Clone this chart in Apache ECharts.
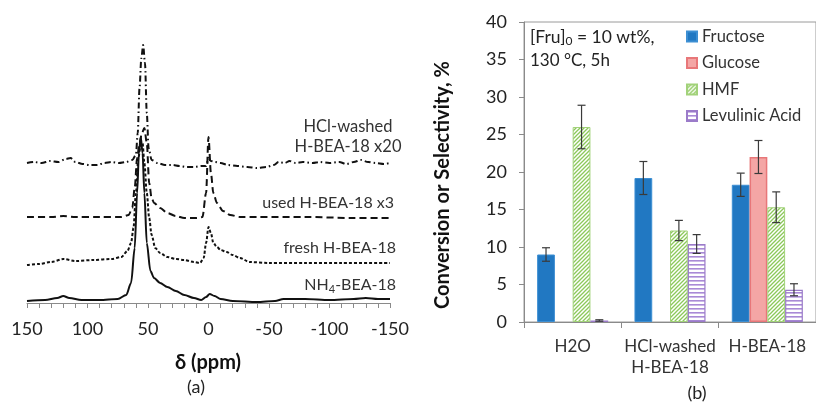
<!DOCTYPE html>
<html>
<head>
<meta charset="utf-8">
<script src="https://cdn.jsdelivr.net/npm/echarts@6/dist/echarts.min.js"></script>
<style>
  html, body { margin: 0; padding: 0; background: #fff; }
  #main { width: 816px; height: 403px; }
</style>
</head>
<body>
<div id="main"></div>
<script>
"use strict";

// (a) spectra: ppm positions and intensity (arbitrary units)
let nhPpm = [150,135,125,120,115,105,90,75,68,64,61,59,57.5,56,54.5,53,51,48,45,40,34,27,20,12,6,2,-1,-5,-10,-20,-40,-55,-62,-80,-100,-120,-130,-140,-150];
let nhInt = [2,3,5,7,5,3,3,4,8,20,55,110,150,166,150,110,60,32,25,20,16,12,8,5,3,6,9,7,4,2,1,2,4,4,3,4,5,4,4];

let freshPpm = [150,140,130,120,110,95,80,72,67,64,62,60,58,56,54.5,53,51,49,47,44,40,34,27,20,12,7,4,2,0,-2,-4,-7,-10,-15,-20,-26,-34,-50,-80,-110,-150];
let freshInt = [38,39,41,44,42,43,44,46,52,60,75,110,145,158,160,140,110,85,68,55,50,46,44,43,41,40,45,60,76,70,60,56,53,51,48,45,41,40,40,40,40];

let usedPpm = [150,130,120,110,90,72,66,63,61,59,57,55,53,51,49,47,45,40,34,27,20,10,5,2,0,-2,-4,-7,-12,-18,-26,-40,-80,-120,-150];
let usedInt = [86,86,87,86,86,86,88,95,115,145,160,170,175,160,120,105,100,95,90,87,85,85,86,110,166,130,110,100,92,88,86,86,86,85,85];

let hclPpm = [150,144,138,131,124,118,114,110,104,98,92,86,80,74,68,63,60,58.5,57,55.5,54,52.5,51,49.5,47,42,36,30,24,18,12,6,2,0,-2,-5,-10,-16,-24,-32,-40,-48,-54,-58,-63,-67,-72,-78,-86,-92,-100,-108,-114,-120,-126,-132,-138,-145,-150];
let hclInt = [140,141,140,142,141,144,145,141,139,138,138,140,141,140,141,143,148,170,215,245,258,240,190,155,143,140,138,138,137,136,136,137,137,145,142,141,140,138,137,136,135,136,138,141,140,142,140,141,140,141,140,141,139,141,143,141,140,139,140];

// (b) bars
let categories = ['H2O', 'HCl-washed\nH-BEA-18', 'H-BEA-18'];
let fructose = [9.0, 19.2, 18.3];
let fructoseErr = [0.9, 2.2, 1.55];
let glucose = ['-', '-', 22.0];
let glucoseErr = [null, null, 2.2];
let hmf = [26.0, 12.2, 15.3];
let hmfErr = [2.9, 1.35, 2.05];
let levulinic = [0.2, 10.4, 4.3];
let levulinicErr = [0.1, 1.25, 0.8];

let FONT = 'Lato, "Noto Sans", sans-serif';

function pairs(xs, ys) {
  return xs.map((x, i) => [x, ys[i]]);
}

// small repeating tiles for the hatched bars
function hatch(kind, color) {
  let c = document.createElement('canvas');
  c.width = 4; c.height = 4;
  let g = c.getContext('2d');
  g.fillStyle = '#ffffff';
  g.fillRect(0, 0, 4, 4);
  if (kind === 'diag') {
    g.strokeStyle = color;
    g.lineWidth = 1.3;
    g.beginPath();
    g.moveTo(-1, 5); g.lineTo(5, -1);
    g.moveTo(-1, 1); g.lineTo(1, -1);
    g.moveTo(3, 5); g.lineTo(5, 3);
    g.stroke();
  } else {
    g.fillStyle = color;
    g.fillRect(0, 0, 4, 1.6);
  }
  return { image: c, repeat: 'repeat' };
}

function spectrum(name, ppm, vals, dash) {
  return {
    type: 'line', name: name, xAxisIndex: 0, yAxisIndex: 0,
    data: pairs(ppm, vals), symbol: 'none', smooth: 0.3, smoothMonotone: 'x',
    lineStyle: { color: '#111', width: 2, type: dash },
    silent: true, animation: false
  };
}

// error bars drawn through the bar axis scales
function errSeries(slot, vals, errs) {
  let data = [];
  vals.forEach((v, i) => {
    if (errs[i] != null) data.push([i, v, errs[i]]);
  });
  return {
    type: 'custom', xAxisIndex: 1, yAxisIndex: 1, z: 5, animation: false, silent: true,
    data: data,
    renderItem: function (params, api) {
      let cat = api.value(0), v = api.value(1), e = api.value(2);
      let band = api.size([1, 0])[0];
      let bw = band * 0.73 / 4;
      let x = api.coord([cat, v])[0] + (slot - 1.5) * bw;
      let top = api.coord([cat, v + e])[1];
      let bot = api.coord([cat, v - e])[1];
      let st = { stroke: '#3a3a3a', lineWidth: 1.2 };
      return {
        type: 'group',
        children: [
          { type: 'line', shape: { x1: x, y1: top, x2: x, y2: bot }, style: st },
          { type: 'line', shape: { x1: x - 4, y1: top, x2: x + 4, y2: top }, style: st },
          { type: 'line', shape: { x1: x - 4, y1: bot, x2: x + 4, y2: bot }, style: st }
        ]
      };
    }
  };
}

let chart = echarts.init(document.getElementById('main'), null, { renderer: 'canvas' });

let labelStyle = { fill: '#333', font: '16px ' + FONT, align: 'right', verticalAlign: 'middle' };

let option = {
  backgroundColor: '#fff',
  animation: false,
  textStyle: { fontFamily: FONT },
  grid: [
    { left: 27, top: 30, width: 363, height: 273 },
    { left: 524, top: 22, width: 303, height: 300, show: true, borderColor: '#9a9a9a', borderWidth: 1 }
  ],
  xAxis: [
    {
      gridIndex: 0, type: 'value', inverse: true, min: -150, max: 150, interval: 50,
      axisLine: { show: true, lineStyle: { color: '#8a8a8a', width: 1 } },
      axisTick: { show: true, length: 5, lineStyle: { color: '#8a8a8a' } },
      minorTick: { show: true, splitNumber: 5, length: 5, lineStyle: { color: '#8a8a8a' } },
      splitLine: { show: false },
      axisLabel: { fontSize: 18, color: '#222', margin: 17, fontFamily: FONT }
    },
    {
      gridIndex: 1, type: 'category', data: categories,
      axisLine: { show: true, lineStyle: { color: '#8a8a8a' } },
      axisTick: { show: true, length: 6, lineStyle: { color: '#8a8a8a' } },
      axisLabel: { fontSize: 17, color: '#333', margin: 14, lineHeight: 21, interval: 0, fontFamily: FONT }
    }
  ],
  yAxis: [
    { gridIndex: 0, type: 'value', min: 0, max: 273, show: false },
    {
      gridIndex: 1, type: 'value', min: 0, max: 40, interval: 5,
      axisLine: { show: true, lineStyle: { color: '#8a8a8a' } },
      axisTick: { show: true, length: 5, lineStyle: { color: '#8a8a8a' } },
      splitLine: { show: false },
      axisLabel: { fontSize: 18, color: '#222', margin: 17, fontFamily: FONT }
    }
  ],
  legend: {
    orient: 'vertical', left: 686, top: 28, padding: 0, itemWidth: 10, itemHeight: 10, itemGap: 9.5,
    icon: 'rect', data: ['Fructose', 'Glucose', 'HMF', 'Levulinic Acid'],
    textStyle: { fontSize: 16.5, color: '#333', fontFamily: FONT }
  },
  series: [
    spectrum('NH4-BEA-18', nhPpm, nhInt, 'solid'),
    spectrum('fresh H-BEA-18', freshPpm, freshInt, [3, 2]),
    spectrum('used H-BEA-18 x3', usedPpm, usedInt, [7, 4]),
    spectrum('HCl-washed H-BEA-18 x20', hclPpm, hclInt, [6, 3, 1.5, 3]),
    {
      type: 'bar', name: 'Fructose', xAxisIndex: 1, yAxisIndex: 1, data: fructose,
      barGap: '0%', barCategoryGap: '27%',
      itemStyle: { color: '#2178C2', borderColor: '#3d8fd3', borderWidth: 1 }
    },
    {
      type: 'bar', name: 'Glucose', xAxisIndex: 1, yAxisIndex: 1, data: glucose,
      itemStyle: { color: '#F4A6A5', borderColor: '#E87779', borderWidth: 1.5 }
    },
    {
      type: 'bar', name: 'HMF', xAxisIndex: 1, yAxisIndex: 1, data: hmf,
      itemStyle: { color: hatch('diag', '#8CC85A'), borderColor: '#A2D27A', borderWidth: 1 }
    },
    {
      type: 'bar', name: 'Levulinic Acid', xAxisIndex: 1, yAxisIndex: 1, data: levulinic,
      itemStyle: { color: hatch('horiz', '#A98AD6'), borderColor: '#9B7BC9', borderWidth: 1.2 }
    },
    errSeries(0, fructose, fructoseErr),
    errSeries(1, glucose, glucoseErr),
    errSeries(2, hmf, hmfErr),
    errSeries(3, levulinic, levulinicErr)
  ],
  graphic: [
    // spectrum labels
    {
      type: 'text', x: 348, y: 137,
      style: { text: 'HCl-washed\nH-BEA-18 x20', fill: '#333', font: '16.5px ' + FONT, align: 'center', verticalAlign: 'middle', lineHeight: 20 }
    },
    { type: 'text', x: 394, y: 203, style: Object.assign({ text: 'used H-BEA-18 x3' }, labelStyle) },
    { type: 'text', x: 396, y: 248, style: Object.assign({ text: 'fresh H-BEA-18' }, labelStyle) },
    {
      type: 'text', x: 396, y: 285,
      style: {
        text: '{n|NH}{s|4}{n|-BEA-18}', align: 'right', verticalAlign: 'middle',
        rich: {
          n: { fontSize: 16, fontFamily: FONT, fill: '#333', lineHeight: 20 },
          s: { fontSize: 11, fontFamily: FONT, fill: '#333', lineHeight: 13, verticalAlign: 'bottom' }
        }
      }
    },
    { type: 'text', x: 208, y: 363, style: { text: 'δ (ppm)', fill: '#111', font: 'bold 20px ' + FONT, align: 'center', verticalAlign: 'middle' } },
    { type: 'text', x: 196, y: 387, style: { text: '(a)', fill: '#222', font: '18px ' + FONT, align: 'center', verticalAlign: 'middle' } },
    // bar panel texts
    {
      type: 'text', x: 443, y: 185, rotation: Math.PI / 2,
      style: { text: 'Conversion or Selectivity, %', fill: '#111', font: 'bold 20px ' + FONT, align: 'center', verticalAlign: 'middle' }
    },
    {
      type: 'text', x: 530, y: 37,
      style: {
        text: '{n|[Fru]}{s|0}{n| = 10 wt%,}', align: 'left', verticalAlign: 'middle',
        rich: {
          n: { fontSize: 17.5, fontFamily: FONT, fill: '#222', lineHeight: 20 },
          s: { fontSize: 12, fontFamily: FONT, fill: '#222', lineHeight: 13, verticalAlign: 'bottom' }
        }
      }
    },
    { type: 'text', x: 530, y: 61, style: { text: '130 °C, 5h', fill: '#222', font: '17px ' + FONT, align: 'left', verticalAlign: 'middle' } },
    { type: 'text', x: 697, y: 393, style: { text: '(b)', fill: '#222', font: '18px ' + FONT, align: 'center', verticalAlign: 'middle' } }
  ]
};

chart.setOption(option);
</script>
</body>
</html>
